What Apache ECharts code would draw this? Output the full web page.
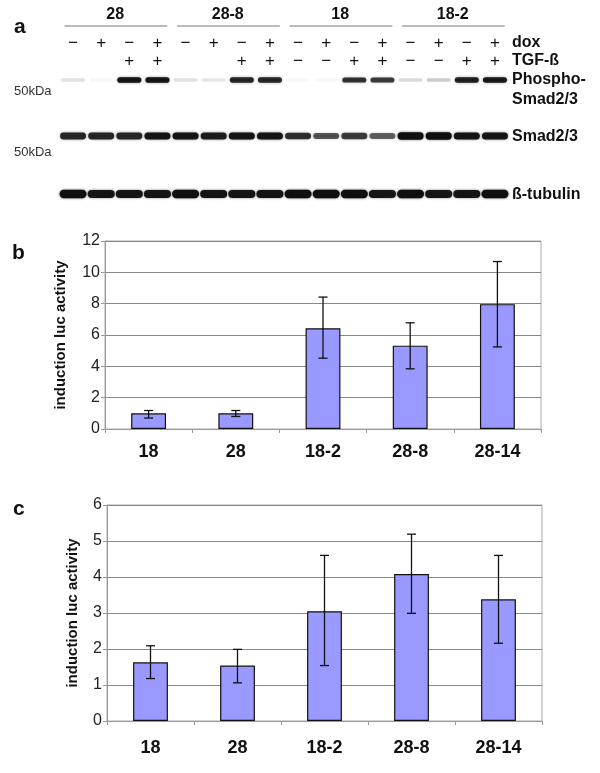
<!DOCTYPE html>
<html>
<head>
<meta charset="utf-8">
<script src="https://cdn.jsdelivr.net/npm/echarts@6/dist/echarts.min.js"></script>
<style>html,body{margin:0;padding:0;background:#fff}#chart{width:600px;height:773px}</style>
</head>
<body>
<div id="chart"></div>
<script>
// ---------- DATA ----------
const lanes = ['1','2','3','4','5','6','7','8','9','10','11','12','13','14','15','16'];
const doxSigns = ['−','+','−','+','−','+','−','+','−','+','−','+','−','+','−','+'];
const tgfSigns = ['','','+','+','','','+','+','−','−','+','+','−','−','+','+'];
const groupNames = ['28','28-8','18','18-2'];
const groupFirstLane = [0,4,8,12];
const groupLastLane = [3,7,11,15];
const blotRowNames = ['Phospho-Smad2/3','Smad2/3','ß-tubulin'];
const phosphoBand = [0.12,0.04,0.95,0.95,0.12,0.10,0.85,0.85,0.03,0.03,0.80,0.75,0.15,0.20,0.88,0.92];
const smadBand    = [0.85,0.85,0.85,0.95,0.95,0.90,0.95,0.95,0.80,0.65,0.75,0.60,1.00,1.00,0.95,0.95];
const tubulinBand = [1.00,0.95,0.95,0.95,1.00,0.95,0.95,0.95,1.00,1.00,1.00,0.95,1.00,0.95,0.95,1.00];

const categories = ['18','28','18-2','28-8','28-14'];
const bMean = [1.00,1.00,6.43,5.32,7.97];
const bLow  = [0.70,0.80,4.52,3.84,5.24];
const bHigh = [1.18,1.18,8.42,6.78,10.69];
const cMean = [1.63,1.54,3.05,4.08,3.38];
const cLow  = [1.18,1.06,1.54,2.99,2.16];
const cHigh = [2.09,1.99,4.60,5.19,4.60];
const bAxisMax = 12, bAxisStep = 2;
const cAxisMax = 6,  cAxisStep = 1;
const yName = 'induction luc activity';

// ---------- LAYOUT ----------
const FONT = '"Liberation Sans", Arial, sans-serif';
const L = {
  groupLabelY: 15, groupLineY: 26, doxY: 43, tgfY: 61,
  rowY: [80, 136, 194], bandW: [24, 26, 27], bandH: [5.5, 7, 8]
};

const chart = echarts.init(document.getElementById('chart'), null, {renderer:'canvas'});

function errorBar(gridIdx, low, high) {
  return {
    type: 'custom', xAxisIndex: gridIdx, yAxisIndex: gridIdx, z: 5,
    data: categories.map((c, i) => [i, low[i], high[i]]),
    renderItem: (params, api) => {
      const lo = api.coord([api.value(0), api.value(1)]);
      const hi = api.coord([api.value(0), api.value(2)]);
      const cap = 4.5;
      const st = {stroke: '#111', lineWidth: 1.3};
      return {type: 'group', children: [
        {type:'line', shape:{x1:lo[0], y1:lo[1], x2:hi[0], y2:hi[1]}, style: st},
        {type:'line', shape:{x1:lo[0]-cap, y1:lo[1], x2:lo[0]+cap, y2:lo[1]}, style: st},
        {type:'line', shape:{x1:hi[0]-cap, y1:hi[1], x2:hi[0]+cap, y2:hi[1]}, style: st}
      ]};
    }
  };
}

function barXAxis(gridIdx, margin) {
  return {
    type: 'category', gridIndex: gridIdx, data: categories,
    axisLine: {show: true, lineStyle: {color: '#999', width: 1}},
    axisTick: {show: true, length: 4, alignWithLabel: false, lineStyle: {color: '#999'}},
    axisLabel: {fontFamily: FONT, fontSize: 18, fontWeight: 'bold', color: '#111', margin: margin},
    splitLine: {show: false}
  };
}
function barYAxis(gridIdx, max, step, gap) {
  return {
    type: 'value', gridIndex: gridIdx, min: 0, max: max, interval: step,
    name: yName, nameLocation: 'middle', nameRotate: 90, nameGap: gap,
    nameTextStyle: {fontFamily: FONT, fontSize: 15, fontWeight: 'bold', color: '#111'},
    axisLine: {show: true, lineStyle: {color: '#999', width: 1}},
    axisTick: {show: true, length: 4, lineStyle: {color: '#999'}},
    axisLabel: {fontFamily: FONT, fontSize: 16, color: '#222', margin: 5},
    splitLine: {show: true, lineStyle: {color: '#888', width: 1}}
  };
}

const bands = [phosphoBand, smadBand, tubulinBand];
const bandData = [];
bands.forEach((arr, r) => arr.forEach((v, i) => bandData.push([i, r, v])));

const headerData = lanes.map((l, i) => [i, doxSigns[i], tgfSigns[i]]);
const groupData = groupNames.map((g, i) => [groupFirstLane[i], groupLastLane[i], g]);

const option = {
  animation: false,
  backgroundColor: '#fff',
  textStyle: {fontFamily: FONT},
  grid: [
    {left: 59, width: 450, top: 0, height: 220, show: false},
    {left: 105, right: 59, top: 241, height: 188, show: true, borderColor: '#aaa', borderWidth: 1},
    {left: 107, right: 58, top: 505, height: 216, show: true, borderColor: '#aaa', borderWidth: 1}
  ],
  xAxis: [
    {type: 'category', gridIndex: 0, data: lanes, show: false},
    barXAxis(1, 14),
    barXAxis(2, 18)
  ],
  yAxis: [
    {type: 'value', gridIndex: 0, min: 0, max: 220, inverse: true, show: false},
    barYAxis(1, bAxisMax, bAxisStep, 37),
    barYAxis(2, cAxisMax, cAxisStep, 27)
  ],
  graphic: [
    {type:'text', left: 14, top: 17, style:{text:'a', font:'bold 21px '+FONT, fill:'#111'}},
    {type:'text', left: 12, top: 243, style:{text:'b', font:'bold 21px '+FONT, fill:'#111'}},
    {type:'text', left: 13, top: 499, style:{text:'c', font:'bold 21px '+FONT, fill:'#111'}},
    {type:'text', left: 14, top: 85, style:{text:'50kDa', font:'13px '+FONT, fill:'#333'}},
    {type:'text', left: 14, top: 146, style:{text:'50kDa', font:'13px '+FONT, fill:'#333'}},
    {type:'text', left: 512, top: 35, style:{text:'dox', font:'bold 16px '+FONT, fill:'#111'}},
    {type:'text', left: 512, top: 53, style:{text:'TGF-ß', font:'bold 16px '+FONT, fill:'#111'}},
    {type:'text', left: 512, top: 72, style:{text:'Phospho-', font:'bold 16px '+FONT, fill:'#111'}},
    {type:'text', left: 512, top: 92, style:{text:'Smad2/3', font:'bold 16px '+FONT, fill:'#111'}},
    {type:'text', left: 512, top: 129, style:{text:'Smad2/3', font:'bold 16px '+FONT, fill:'#111'}},
    {type:'text', left: 512, top: 187, style:{text:'ß-tubulin', font:'bold 16px '+FONT, fill:'#111'}}
  ],
  series: [
    // group headers
    {
      type: 'custom', xAxisIndex: 0, yAxisIndex: 0, data: groupData,
      renderItem: (params, api) => {
        const w = api.size([1, 0])[0];
        const a = api.coord([api.value(0), L.groupLineY]);
        const b = api.coord([api.value(1), L.groupLineY]);
        const t = api.coord([0, L.groupLabelY]);
        return {type:'group', children:[
          {type:'line', shape:{x1:a[0]-0.3*w, y1:a[1], x2:b[0]+0.35*w, y2:b[1]}, style:{stroke:'#777', lineWidth:1}},
          {type:'text', x:(a[0]+b[0])/2, y:t[1], style:{text: groupData[params.dataIndex][2], font:'bold 16px '+FONT, fill:'#111', align:'center', verticalAlign:'middle'}}
        ]};
      }
    },
    // dox / TGF signs
    {
      type: 'custom', xAxisIndex: 0, yAxisIndex: 0, data: headerData,
      renderItem: (params, api) => {
        const i = params.dataIndex;
        const p1 = api.coord([i, L.doxY]);
        const p2 = api.coord([i, L.tgfY]);
        return {type:'group', children:[
          {type:'text', x:p1[0], y:p1[1], style:{text: headerData[i][1], font:'17px '+FONT, fill:'#111', align:'center', verticalAlign:'middle'}},
          {type:'text', x:p2[0], y:p2[1], style:{text: headerData[i][2], font:'17px '+FONT, fill:'#111', align:'center', verticalAlign:'middle'}}
        ]};
      }
    },
    // blot bands
    {
      type: 'custom', xAxisIndex: 0, yAxisIndex: 0, data: bandData,
      renderItem: (params, api) => {
        const lane = api.value(0), row = api.value(1), v = api.value(2);
        const p = api.coord([lane, L.rowY[row]]);
        const w = L.bandW[row], h = L.bandH[row] * (0.55 + 0.5 * v);
        return {type:'rect', shape:{x:p[0]-w/2, y:p[1]-h/2, width:w, height:h, r:h/2},
          style:{fill:'rgba(15,15,15,' + v + ')', shadowBlur: 2.5, shadowColor:'rgba(0,0,0,' + (0.6*v) + ')'}};
      }
    },
    // panel b
    {type:'bar', xAxisIndex:1, yAxisIndex:1, data: bMean, barWidth:'40%',
     itemStyle:{color:'#9999ff', borderColor:'#111', borderWidth:1.2}},
    errorBar(1, bLow, bHigh),
    // panel c
    {type:'bar', xAxisIndex:2, yAxisIndex:2, data: cMean, barWidth:'40%',
     itemStyle:{color:'#9999ff', borderColor:'#111', borderWidth:1.2}},
    errorBar(2, cLow, cHigh)
  ]
};
chart.setOption(option);
</script>
</body>
</html>
